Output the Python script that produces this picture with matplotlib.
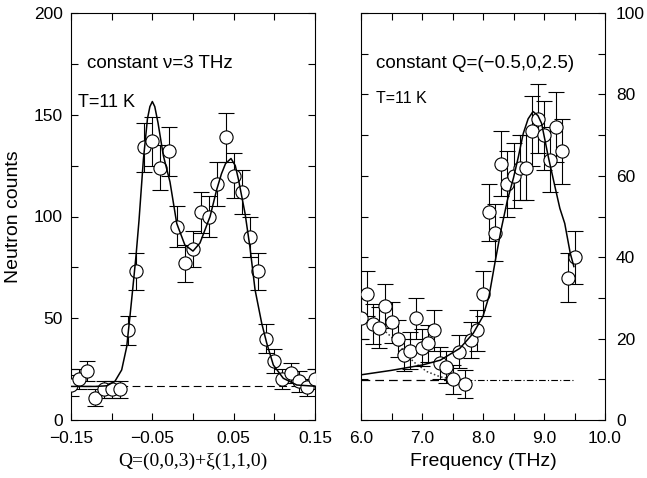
import matplotlib
matplotlib.use("Agg")
import matplotlib.pyplot as plt

plt.rcParams['font.family'] = ['Liberation Sans', 'DejaVu Sans']

# constant energy scan (left)
q_xi = [-0.15, -0.14, -0.13, -0.12, -0.11, -0.10, -0.09, -0.08, -0.07, -0.06,
        -0.05, -0.04, -0.03, -0.02, -0.01, 0.00, 0.01, 0.02, 0.03, 0.04,
        0.05, 0.06, 0.07, 0.08, 0.09, 0.10, 0.11, 0.12, 0.13, 0.14, 0.15]
q_counts = [17, 20, 24, 11, 15, 15, 15, 44, 73, 134,
            137, 124, 132, 95, 77, 84, 102, 100, 116, 139,
            120, 112, 90, 73, 40, 29, 20, 23, 19, 16, 20]
q_err = [5, 5, 5, 4, 4, 4, 4, 7, 9, 12,
         12, 11, 12, 10, 9, 9, 10, 10, 11, 12,
         11, 11, 10, 9, 7, 6, 5, 5, 5, 4, 5]

q_fit_x = [-0.15, -0.12, -0.106, -0.096, -0.0877, -0.0815, -0.0775, -0.0742,
           -0.070, -0.0664, -0.061, -0.056, -0.053, -0.050, -0.047, -0.043,
           -0.0365, -0.0283, -0.020, -0.010, 0.000, 0.0086, 0.021, 0.029,
           0.035, 0.040, 0.0467, 0.052, 0.056, 0.064, 0.070, 0.0763, 0.0845,
           0.0907, 0.0988, 0.111, 0.1276, 0.15]
q_fit_y = [16.5, 16.5, 16.8, 19, 24.6, 36, 51, 64,
           81, 98, 128, 148, 154, 156.5, 154, 146,
           130, 117, 96.6, 86, 83, 87, 100, 113,
           121, 126, 128.5, 125, 118, 101.5, 85, 64, 47.5,
           37.7, 27, 20.5, 17.2, 16.6]
q_base_x = [-0.15, 0.15]
q_base_y = [16.5, 16.5]

# constant Q scan (right)
freq = [6.0, 6.1, 6.2, 6.3, 6.4, 6.5, 6.6, 6.7, 6.8, 6.9,
        7.0, 7.1, 7.2, 7.3, 7.4, 7.5, 7.6, 7.7, 7.8, 7.9,
        8.0, 8.1, 8.2, 8.3, 8.4, 8.5, 8.6, 8.7, 8.8, 8.9,
        9.0, 9.1, 9.2, 9.3, 9.4, 9.5]
f_counts = [25, 31, 23.6, 22.7, 28, 24, 20, 16, 17, 25,
            17.8, 18.8, 22, 14, 13, 10, 16.8, 8.8, 19.7, 22,
            31, 51, 46, 63, 58, 60, 62, 62, 71, 74,
            70, 64, 72, 66, 35, 40]
f_err = [5, 5.5, 5, 5, 5.5, 5, 4.5, 4, 4.5, 5,
         4.5, 4.5, 5, 4, 4, 3.5, 4, 3.5, 4.5, 5,
         5.5, 7, 7, 8, 8, 8, 8, 8, 8.5, 8.5,
         8.5, 8, 8.5, 8, 6, 6.5]

f_fit_x = [6.0, 6.5, 7.0, 7.3, 7.62, 7.84, 8.0, 8.1, 8.2, 8.3, 8.4, 8.5,
           8.58, 8.66, 8.74, 8.82, 8.9, 8.96, 9.07, 9.18, 9.26, 9.34, 9.43, 9.49]
f_fit_y = [11.1, 12.2, 13.5, 14.7, 17.6, 21.3, 25.5, 30.5, 39, 47, 54, 59.5,
           64.7, 70.4, 74, 75.8, 74.8, 72.9, 64.7, 57.3, 52, 48.3, 41, 37.7]
f_low_x = [5.98, 6.15, 6.31, 6.53, 6.69, 6.86, 7.08, 7.30, 7.51, 7.65]
f_low_y = [25.5, 24.4, 22.9, 20.0, 17.2, 14.3, 11.9, 10.6, 10.0, 9.9]
f_base1_x = [6.0, 7.5]
f_base2_x = [7.5, 9.5]
f_base_y = [9.9, 9.9]

fig = plt.figure(figsize=(6.47, 4.78), dpi=100)
ax1 = fig.add_axes([71 / 647, 58 / 478, 244 / 647, 407 / 478])
ax2 = fig.add_axes([361 / 647, 58 / 478, 244 / 647, 407 / 478])

pt_style = dict(fmt='o', ms=9.5, mfc='white', mec='black', mew=0.8,
                ecolor='black', elinewidth=0.8, capsize=5.5, capthick=0.8)

ax1.plot(q_base_x, q_base_y, color='black', lw=0.8, dashes=(7, 4))
ax1.errorbar(q_xi, q_counts, yerr=q_err, zorder=3, **pt_style)
ax1.plot(q_fit_x, q_fit_y, color='black', lw=1.1, zorder=4)

ax1.set_xlim(-0.15, 0.15)
ax1.set_ylim(0, 200)
ax1.set_xticks([-0.15, -0.10, -0.05, 0.0, 0.05, 0.10, 0.15])
ax1.set_xticklabels(['\u22120.15', '', '\u22120.05', '', '0.05', '', '0.15'])
ax1.set_yticks([0, 25, 50, 75, 100, 125, 150, 175, 200])
ax1.set_yticklabels(['0', '', '50', '', '100', '', '150', '', '200'])
ax1.tick_params(direction='in', top=True, right=True, length=5, labelsize=12.5)
ax1.tick_params(axis='x', pad=8)
ax1.tick_params(axis='y', pad=6)
ax1.set_ylabel('Neutron counts', fontsize=14, labelpad=8)
ax1.set_xlabel('Q=(0,0,3)+\u03be(1,1,0)', fontsize=14,
               family=['Liberation Serif', 'DejaVu Serif'], labelpad=5)
ax1.text(0.065, 0.875, 'constant \u03bd=3 THz', transform=ax1.transAxes,
         fontsize=13.5, va='center')
ax1.text(0.03, 0.78, 'T=11 K', transform=ax1.transAxes, fontsize=13, va='center')

ax2.plot(f_base1_x, f_base_y, color='black', lw=0.9, dashes=(7, 4))
ax2.plot(f_base2_x, f_base_y, color='black', lw=0.8, dashes=(6, 2, 1, 2))
ax2.plot(f_low_x, f_low_y, color='#333333', lw=1.1, dashes=(1, 1.5))
ax2.errorbar(freq, f_counts, yerr=f_err, zorder=3, **pt_style)
ax2.plot(f_fit_x, f_fit_y, color='black', lw=1.1, zorder=4)

ax2.set_xlim(6.0, 10.0)
ax2.set_ylim(0, 100)
ax2.set_xticks([6.0, 6.5, 7.0, 7.5, 8.0, 8.5, 9.0, 9.5, 10.0])
ax2.set_xticklabels(['6.0', '', '7.0', '', '8.0', '', '9.0', '', '10.0'])
ax2.set_yticks(range(0, 101, 10))
ax2.set_yticklabels(['0', '', '20', '', '40', '', '60', '', '80', '', '100'])
ax2.yaxis.tick_right()
ax2.tick_params(direction='in', top=True, left=True, right=True, length=5,
                labelsize=12.5, labelleft=False, labelright=True)
ax2.tick_params(axis='x', pad=8)
ax2.tick_params(axis='y', pad=8)
ax2.set_xlabel('Frequency (THz)', fontsize=14, labelpad=5)
ax2.text(0.06, 0.875, 'constant Q=(\u22120.5,0,2.5)', transform=ax2.transAxes,
         fontsize=13.5, va='center')
ax2.text(0.06, 0.79, 'T=11 K', transform=ax2.transAxes, fontsize=11.5, va='center')

fig.savefig('out.png', dpi=100)
